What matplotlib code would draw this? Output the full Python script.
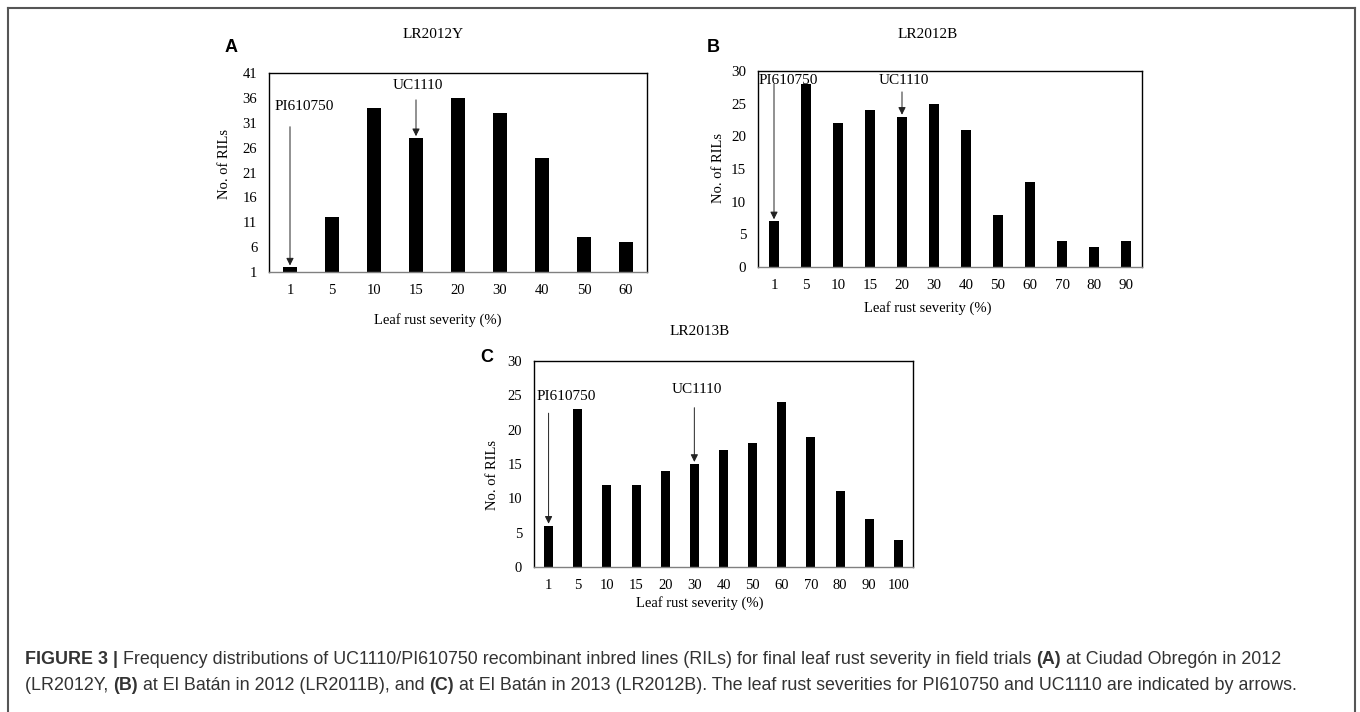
import matplotlib.pyplot as plt
from matplotlib.lines import Line2D

# data
sev_a = ["1", "5", "10", "15", "20", "30", "40", "50", "60"]
ril_a = [2, 12, 34, 28, 36, 33, 24, 8, 7]

sev_b = ["1", "5", "10", "15", "20", "30", "40", "50", "60", "70", "80", "90"]
ril_b = [7, 28, 22, 24, 23, 25, 21, 8, 13, 4, 3, 4]

sev_c = ["1", "5", "10", "15", "20", "30", "40", "50", "60", "70", "80", "90", "100"]
ril_c = [6, 23, 12, 12, 14, 15, 17, 18, 24, 19, 11, 7, 4]

W, H = 1360, 712
fig = plt.figure(figsize=(W / 100, H / 100), dpi=100)
plt.rcParams['font.family'] = ['Liberation Serif', 'DejaVu Serif']


def fx(px):
    return px / W


def fy(py):
    return 1 - py / H


def panel(box, cats, vals, ylim, yticks, fs):
    l, t, r, b = box
    ax = fig.add_axes([fx(l), fy(b), fx(r - l), fy(t) - fy(b)])
    x = list(range(len(cats)))
    ax.bar(x, vals, width=0.31, color="black")
    ax.set_xlim(-0.5, len(cats) - 0.5)
    ax.set_ylim(*ylim)
    ax.set_xticks(x)
    ax.set_xticklabels(cats)
    ax.set_yticks(yticks)
    ax.tick_params(length=0, labelsize=fs, pad=8.5)
    for s in ax.spines.values():
        s.set_linewidth(1.0)
        s.set_color("black")
    ax.spines["bottom"].set_color("#808080")
    return ax


def arrow(ax, label, xi, y0, y1, tx, ty, fs, ha="center"):
    ax.annotate("", xy=(xi, y1), xytext=(xi, y0),
                arrowprops=dict(arrowstyle="-|>", color="#222222", lw=0.7,
                                mutation_scale=11, shrinkA=0, shrinkB=0))
    ax.text(tx, ty, label, ha=ha, va="center", fontsize=fs)


# panel A
ax_a = panel((269, 73, 647, 272), sev_a, ril_a, (1, 41), range(1, 42, 5), 10.5)
arrow(ax_a, "PI610750", 0, 30.2, 2.3, 0.35, 34.2, 11)
arrow(ax_a, "UC1110", 3, 35.6, 28.3, 3.05, 38.4, 11)

# panel B
ax_b = panel((758, 71, 1142, 267), sev_b, ril_b, (0, 30), range(0, 31, 5), 10.8)
arrow(ax_b, "PI610750", 0, 28.0, 7.3, -0.48, 28.6, 11, ha="left")
arrow(ax_b, "UC1110", 4, 26.8, 23.3, 4.05, 28.6, 11)

# panel C
ax_c = panel((534, 361, 913, 567), sev_c, ril_c, (0, 30), range(0, 31, 5), 10.5)
arrow(ax_c, "PI610750", 0, 22.4, 6.3, 0.6, 24.9, 11)
arrow(ax_c, "UC1110", 5, 23.2, 15.3, 5.1, 25.9, 11)

# titles, axis labels, panel letters
for tx, ty, s in [(433, 35, "LR2012Y"), (928, 35, "LR2012B"), (700, 332, "LR2013B")]:
    fig.text(fx(tx), fy(ty), s, ha="center", va="center", fontsize=11)
for tx, ty in [(438, 320), (928, 308), (700, 603)]:
    fig.text(fx(tx), fy(ty), "Leaf rust severity (%)", ha="center", va="center",
             fontsize=10.5)
for tx, ty in [(225, 164), (718, 168), (493, 475)]:
    fig.text(fx(tx), fy(ty), "No. of RILs", ha="center", va="center",
             rotation=90, fontsize=10.5)
for tx, ty, s in [(231, 47, "A"), (713, 47, "B"), (487, 357, "C")]:
    fig.text(fx(tx), fy(ty), s, ha="center", va="center", fontsize=13,
             fontweight="bold", family=["Liberation Sans", "DejaVu Sans"])

# outer frame, open at the bottom
frame = dict(color="#555555", lw=1.5, transform=fig.transFigure)
fig.add_artist(Line2D([fx(8), fx(8)], [fy(8), 0], **frame))
fig.add_artist(Line2D([fx(8), fx(1355)], [fy(8), fy(8)], **frame))
fig.add_artist(Line2D([fx(1355), fx(1355)], [fy(8), 0], **frame))

# caption with bold pieces
line1 = [("FIGURE 3 | ", True),
         ("Frequency distributions of UC1110/PI610750 recombinant inbred lines (RILs) "
          "for final leaf rust severity in field trials ", False),
         ("(A)", True), (" at Ciudad Obregón in 2012", False)]
line2 = [("(LR2012Y, ", False), ("(B)", True),
         (" at El Batán in 2012 (LR2011B), and ", False), ("(C)", True),
         (" at El Batán in 2013 (LR2012B). The leaf rust severities for PI610750 "
          "and UC1110 are indicated by arrows.", False)]

fig.canvas.draw()
renderer = fig.canvas.get_renderer()
for parts, ty in [(line1, 660), (line2, 686)]:
    xpos = 25
    for s, bold in parts:
        t = fig.text(fx(xpos), fy(ty), s, ha="left", va="center", fontsize=12.9,
                     color="#333333", fontweight="bold" if bold else "normal",
                     family=["Liberation Sans", "DejaVu Sans"])
        bb = t.get_window_extent(renderer)
        xpos += bb.width

fig.savefig("out.png", dpi=100)
